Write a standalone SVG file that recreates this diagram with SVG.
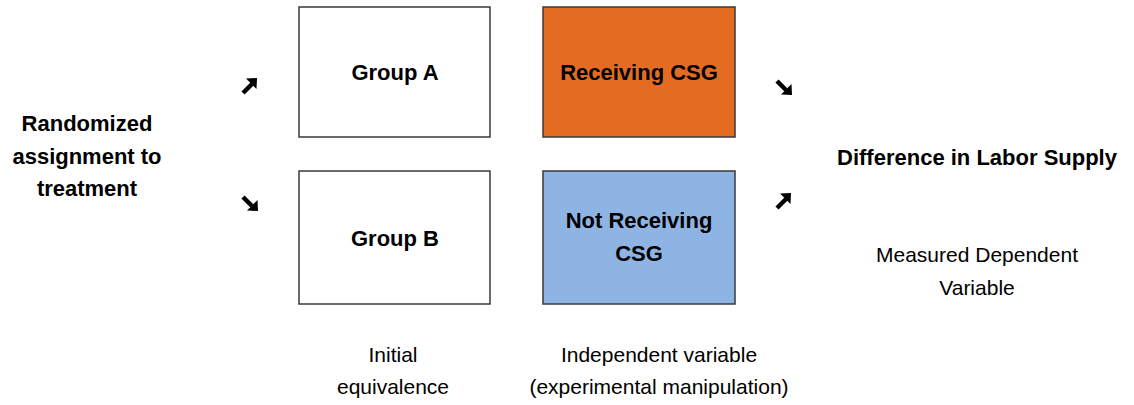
<svg xmlns="http://www.w3.org/2000/svg" width="1134" height="405" viewBox="0 0 1134 405" xmlns:xlink="http://www.w3.org/1999/xlink">
<style>
.box{stroke:#3a3a3a;stroke-width:1.5}
.b{font-family:"Liberation Sans",Arial,sans-serif;font-weight:bold;font-size:22px;fill:#000;text-anchor:middle}
.n{font-family:"Liberation Sans",Arial,sans-serif;font-size:21px;fill:#000;text-anchor:middle}
</style>
<defs>
<g id="arr">
<line x1="-14" y1="15" x2="-5" y2="6" stroke="#000" stroke-width="4.5"/>
<polygon points="0,0 -11,0.5 -0.5,11" fill="#000"/>
</g>
</defs>
<rect width="1134" height="405" fill="#fff"/>
<g id="label-randomized">
<text class="b" x="87" y="131" font-size="23">Randomized</text>
<text class="b" x="87" y="164" font-size="23">assignment to</text>
<text class="b" x="87" y="196" font-size="23">treatment</text>
</g>
<g id="groupA">
<rect class="box" x="299" y="7" width="191" height="130" fill="#fff"/>
<text class="b" x="395" y="80">Group A</text>
</g>
<g id="groupB">
<rect class="box" x="299" y="171" width="191" height="133" fill="#fff"/>
<text class="b" x="395" y="246">Group B</text>
</g>
<g id="receiving">
<rect class="box" x="543" y="7" width="192" height="130" fill="#E46C22"/>
<text class="b" x="639" y="80">Receiving CSG</text>
</g>
<g id="notreceiving">
<rect class="box" x="543" y="171" width="192" height="133" fill="#8EB4E3"/>
<text class="b" x="639" y="228">Not Receiving</text>
<text class="b" x="639" y="261">CSG</text>
</g>
<g id="outcome">
<text class="b" x="977" y="165" font-size="24">Difference in Labor Supply</text>
<text class="n" x="977" y="262">Measured Dependent</text>
<text class="n" x="977" y="295">Variable</text>
</g>
<g id="captions">
<text class="n" x="393" y="362">Initial</text>
<text class="n" x="393" y="394">equivalence</text>
<text class="n" x="659" y="362">Independent variable</text>
<text class="n" x="659" y="394">(experimental manipulation)</text>
</g>
<g id="connectors">
<use xlink:href="#arr" transform="translate(257,78)"/>
<use xlink:href="#arr" transform="translate(258,211) rotate(90)"/>
<use xlink:href="#arr" transform="translate(792,95) rotate(90)"/>
<use xlink:href="#arr" transform="translate(791,193)"/>
</g>
</svg>
